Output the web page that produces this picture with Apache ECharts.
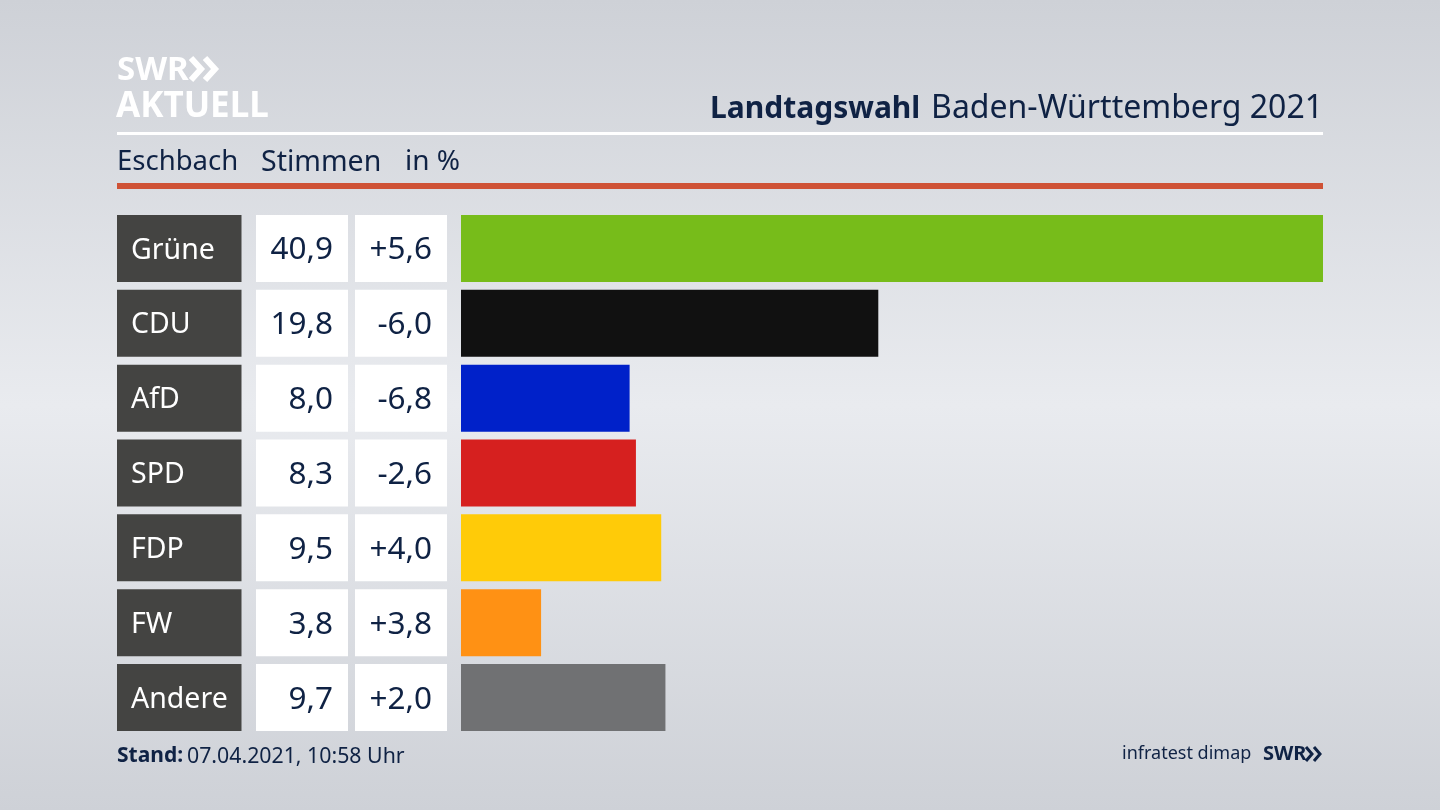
<!DOCTYPE html>
<html>
<head>
<meta charset="utf-8">
<style>
html,body{margin:0;padding:0;background:#d9dce2;}
#chart{width:1440px;height:810px;}
</style>
<script src="https://cdn.jsdelivr.net/npm/echarts@6/dist/echarts.min.js"></script>
</head>
<body>
<div id="chart"></div>
<script>
var parties=['Grüne','CDU','AfD','SPD','FDP','FW','Andere'];
var shares=[40.9,19.8,8.0,8.3,9.5,3.8,9.7];
var changes=[5.6,-6.0,-6.8,-2.6,4.0,3.8,2.0];
var barColors=['#77bc1a','#111111','#0021c9','#d6201f','#ffcb08','#ff9114','#707173'];

var INK='#0f2244';
var FONT='"Noto Sans",sans-serif';

function fmtShare(v){
    return v.toFixed(1).replace('.',',');
}
function fmtChange(v){
    return (v>0?'+':'')+v.toFixed(1).replace('.',',');
}

// die drei Spalten links von den Balken
function renderCells(params,api){
    var i=api.value(0);
    var y=api.coord([0,i])[1];
    var h=67;
    var top=y-h/2;
    function cell(x,w,fill){
        return {type:'rect',shape:{x:x,y:top,width:w,height:h},style:{fill:fill}};
    }
    function label(x,txt,color,align,size){
        return {type:'text',style:{x:x,y:y+2,text:txt,fill:color,align:align,verticalAlign:'middle',
            fontFamily:FONT,fontSize:size}};
    }
    return {type:'group',children:[
        cell(117,124.5,'#444442'),
        cell(256,92,'#ffffff'),
        cell(355,92,'#ffffff'),
        label(131,parties[i],'#ffffff','left',28.5),
        label(333,fmtShare(shares[i]),INK,'right',31.5),
        label(432,fmtChange(changes[i]),INK,'right',31.5)
    ]};
}

var option={
    animation:false,
    backgroundColor:{
        type:'linear',x:0,y:0,x2:0,y2:1,
        colorStops:[
            {offset:0,color:'#ced1d7'},
            {offset:0.5,color:'#e9ebef'},
            {offset:1,color:'#ced1d7'}
        ]
    },
    grid:{left:461,top:211,width:862,height:524},
    xAxis:{type:'value',min:0,max:40.9,show:false},
    yAxis:{type:'category',data:parties,inverse:true,show:false},
    series:[
        {
            type:'bar',
            barWidth:67,
            data:shares.map(function(v,i){
                return {value:v,itemStyle:{color:barColors[i]}};
            })
        },
        {
            type:'custom',
            renderItem:renderCells,
            data:parties.map(function(p,i){return [i];}),
            encode:{y:0}
        }
    ],
    graphic:[
        // Logo
        {type:'text',left:117,top:54,style:{text:'SWR',fill:'#ffffff',fontFamily:FONT,fontWeight:'bold',fontSize:33}},
        {type:'polyline',shape:{points:[[191,58],[201,69],[191,80]]},style:{stroke:'#fff',lineWidth:6,fill:'none'}},
        {type:'polyline',shape:{points:[[205,58],[215,69],[205,80]]},style:{stroke:'#fff',lineWidth:6,fill:'none'}},
        {type:'text',left:116,top:90,style:{text:'AKTUELL',fill:'#ffffff',fontFamily:FONT,fontWeight:'bold',fontSize:35}},
        // Titel
        {type:'text',left:710,top:94,style:{text:'Landtagswahl',fill:INK,fontFamily:FONT,fontWeight:'bold',fontSize:30}},
        {type:'text',right:117,top:93,style:{text:'Baden-Württemberg 2021',fill:INK,fontFamily:FONT,fontSize:32}},
        {type:'rect',shape:{x:117,y:132,width:1206,height:3},style:{fill:'#ffffff'}},
        {type:'text',left:117,top:148,style:{text:'Eschbach',fill:INK,fontFamily:FONT,fontSize:27.5}},
        {type:'text',left:261,top:148,style:{text:'Stimmen',fill:INK,fontFamily:FONT,fontSize:28.5}},
        {type:'text',left:405,top:148,style:{text:'in %',fill:INK,fontFamily:FONT,fontSize:28}},
        {type:'rect',shape:{x:117,y:183,width:1206,height:6},style:{fill:'#cf5236'}},
        // Fusszeile
        {type:'text',left:117,top:746,style:{text:'Stand:',fill:INK,fontFamily:FONT,fontWeight:'bold',fontSize:21}},
        {type:'text',left:187,top:746,style:{text:'07.04.2021, 10:58 Uhr',fill:INK,fontFamily:FONT,fontSize:21.3}},
        {type:'text',left:1122,top:745,style:{text:'infratest dimap',fill:INK,fontFamily:FONT,fontSize:18}},
        {type:'text',left:1263,top:744,style:{text:'SWR',fill:INK,fontFamily:FONT,fontWeight:'bold',fontSize:20}},
        {type:'polyline',shape:{points:[[1306,747],[1312,754],[1306,761]]},style:{stroke:INK,lineWidth:3,fill:'none'}},
        {type:'polyline',shape:{points:[[1314,747],[1320,754],[1314,761]]},style:{stroke:INK,lineWidth:3,fill:'none'}}
    ]
};

var myChart=echarts.init(document.getElementById('chart'));
myChart.setOption(option);
</script>
</body>
</html>
